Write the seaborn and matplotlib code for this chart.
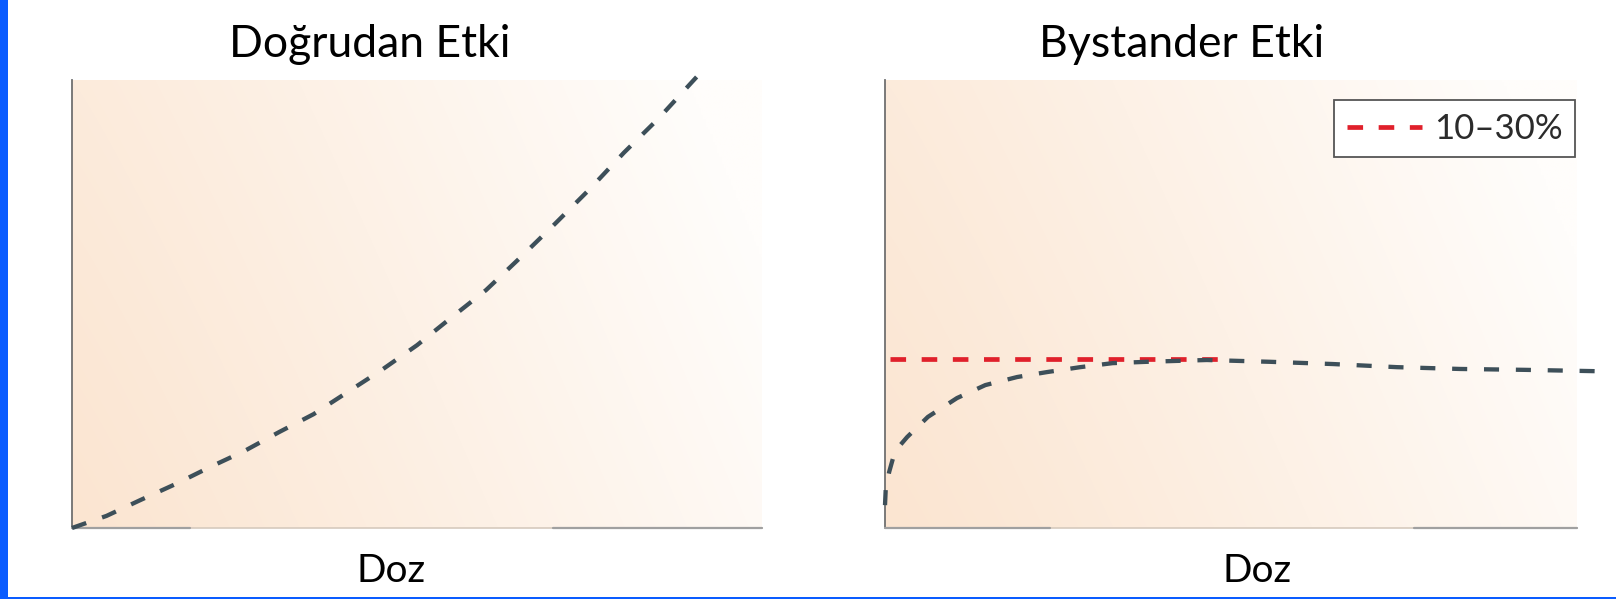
import numpy as np
import matplotlib
matplotlib.use("Agg")
import matplotlib.pyplot as plt
from matplotlib.colors import to_rgb
from matplotlib.lines import Line2D
from matplotlib.patches import Rectangle
import seaborn as sns

# ---- data -------------------------------------------------------------
# direct effect: response rises with dose, steeper at high dose
dose_direct = [0.0, 0.5, 1.0, 1.5, 2.0, 2.5, 3.0, 3.5, 4.0, 4.5, 5.0,
               5.5, 6.0, 6.5, 7.0, 7.5, 8.0, 8.5, 9.0, 9.12]
effect_direct = [0.0, 0.27, 0.63, 0.98, 1.36, 1.72, 2.14, 2.54, 3.04, 3.54,
                 4.08, 4.70, 5.31, 6.04, 6.79, 7.56, 8.38, 9.14, 9.98, 10.18]

# bystander effect: quick rise at low dose, then a plateau
dose_bystander = [0.0, 0.01, 0.06, 0.12, 0.22, 0.32, 0.62, 1.04, 1.45, 1.91,
                  2.34, 2.82, 3.29, 3.79, 4.65, 5.56, 6.47, 7.40, 8.31,
                  9.25, 10.29]
effect_bystander = [0.51, 0.85, 1.25, 1.58, 1.85, 2.03, 2.48, 2.90, 3.19,
                    3.37, 3.48, 3.59, 3.68, 3.71, 3.75, 3.71, 3.66, 3.59,
                    3.55, 3.53, 3.50]

# plateau level band
band_dose = [0.07, 4.90]
band_level = [3.77, 3.77]
band_label = "10–30%"

titles = ["Doğrudan Etki", "Bystander Etki"]
xlabel = "Doz"

# ---- style ------------------------------------------------------------
sns.set_theme(style="white")
plt.rcParams["font.family"] = ["Lato", "DejaVu Sans"]

curve_color = "#3d4f59"
band_color = "#e0202b"
curve_lw = 3.1
band_lw = 3.4
curve_dash = (0, (3.5, 3.9))
band_dash = (0, (3.3, 3.3))
W, H = 1616, 599

fig = plt.figure(figsize=(W / 100, H / 100), dpi=100)
fig.patch.set_facecolor("white")

# axes boxes in pixels: left, right, top, bottom
boxes = [(72, 762, 80, 528), (885, 1577, 80, 528)]
axes = []
for l, r, t, b in boxes:
    ax = fig.add_axes([l / W, (H - b) / H, (r - l) / W, (b - t) / H])
    axes.append(ax)


def peach_background(ax):
    # soft peach wash fading to white towards the right
    nx, ny = 300, 120
    gx = np.linspace(0, 1, nx)[None, :]
    gy = np.linspace(0, 1, ny)[:, None]
    t = np.clip(0.85 * gx ** 1.1 + 0.25 * gy, 0, 1)
    c0 = np.array(to_rgb("#fbe5d1"))
    c1 = np.array(to_rgb("#fffdfb"))
    img = c0[None, None, :] * (1 - t[..., None]) + c1[None, None, :] * t[..., None]
    ax.imshow(img, extent=(0, 10, 0, 10), origin="lower", aspect="auto",
              zorder=0, interpolation="bilinear")


for ax, (seg_a, seg_b) in zip(axes, [((0, 0.171), (0.697, 1.0)),
                                     ((0, 0.238), (0.764, 1.0))]):
    peach_background(ax)
    ax.set_xlim(0, 10)
    ax.set_ylim(0, 10)
    ax.set_xticks([])
    ax.set_yticks([])
    for s in ["top", "right"]:
        ax.spines[s].set_visible(False)
    ax.spines["left"].set_color("#707070")
    ax.spines["left"].set_linewidth(1.3)
    ax.spines["bottom"].set_color("#d6cabd")
    ax.spines["bottom"].set_linewidth(1.2)
    for a, b in (seg_a, seg_b):
        ax.axhline(0, xmin=a, xmax=b, color="#a0a0a0", lw=1.6,
                   clip_on=False, zorder=3)

# direct effect curve
sns.lineplot(x=dose_direct, y=effect_direct, ax=axes[0], color=curve_color,
             linewidth=curve_lw, sort=False, clip_on=False, zorder=4)

# bystander curve and plateau band
sns.lineplot(x=band_dose, y=band_level, ax=axes[1], color=band_color,
             linewidth=band_lw, sort=False, clip_on=False, zorder=4)
sns.lineplot(x=dose_bystander, y=effect_bystander, ax=axes[1],
             color=curve_color, linewidth=curve_lw, sort=False, clip_on=False,
             zorder=5)

for ax in axes:
    for ln in ax.lines:
        if ln.get_color() == band_color:
            ln.set_linestyle(band_dash)
        elif ln.get_color() == curve_color:
            ln.set_linestyle(curve_dash)
        ln.set_dash_capstyle("butt")

handle = Line2D([], [], color=band_color, linewidth=band_lw,
                linestyle=band_dash, dash_capstyle="butt")
leg = axes[1].legend([handle], [band_label], loc="upper right",
                     bbox_to_anchor=(0.997, 0.955), borderaxespad=0,
                     frameon=True, fancybox=False, handlelength=2.15,
                     handletextpad=0.35, borderpad=0.36,
                     prop={"family": ["Lato", "DejaVu Sans"],
                           "weight": "normal", "size": 25})
leg.get_frame().set_edgecolor("#555555")
leg.get_frame().set_linewidth(1.3)
leg.get_frame().set_facecolor("white")
leg.get_frame().set_alpha(1)
for txt in leg.get_texts():
    txt.set_color("#2b2b2b")

# titles and axis labels
fig.text(370 / W, (H - 57) / H, titles[0], ha="center", va="baseline",
         fontsize=32, color="black")
fig.text(1182 / W, (H - 57) / H, titles[1], ha="center", va="baseline",
         fontsize=32, color="black")
fig.text(391 / W, (H - 582) / H, xlabel, ha="center", va="baseline",
         fontsize=28, color="black")
fig.text(1257 / W, (H - 582) / H, xlabel, ha="center", va="baseline",
         fontsize=28, color="black")

# blue frame strips on the left and bottom edges
fig.patches.append(Rectangle((0, 0), 8 / W, 1, transform=fig.transFigure,
                             facecolor="#0a5cff", edgecolor="none"))
fig.patches.append(Rectangle((0, 0), 1, 2.5 / H, transform=fig.transFigure,
                             facecolor="#0a5cff", edgecolor="none"))

fig.savefig("out.png", dpi=100)
